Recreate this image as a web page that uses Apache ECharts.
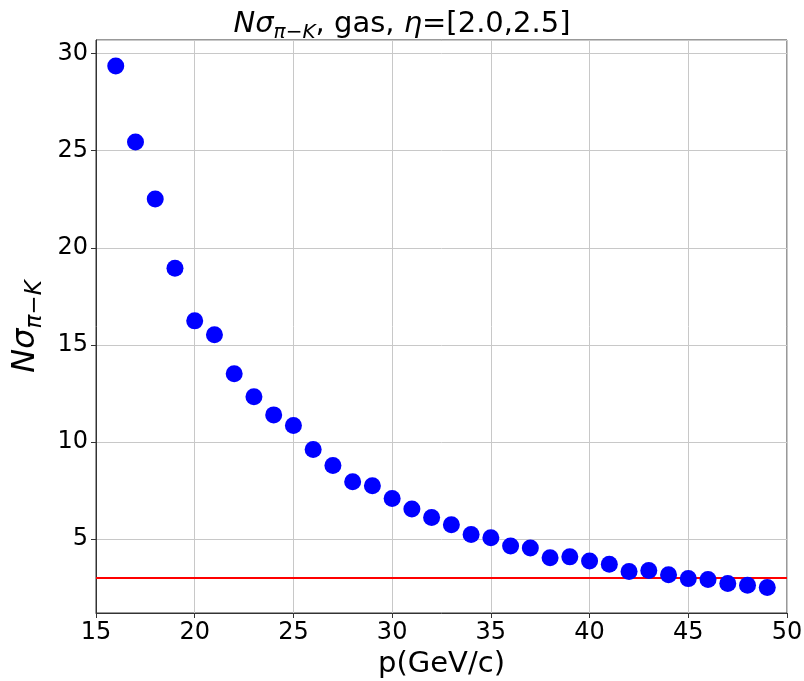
<!DOCTYPE html>
<html>
<head>
<meta charset="utf-8">
<script src="https://cdn.jsdelivr.net/npm/echarts@6/dist/echarts.min.js"></script>
<style>html,body{margin:0;padding:0;background:#fff;}#c{width:804px;height:681px;}</style>
</head>
<body>
<div id="c"></div>
<script>
const momentum = [16,17,18,19,20,21,22,23,24,25,26,27,28,29,30,31,32,33,34,35,36,37,38,39,40,41,42,43,44,45,46,47,48,49];
const nSigma = [29.36,25.45,22.51,18.95,16.24,15.52,13.52,12.33,11.4,10.85,9.62,8.79,7.96,7.75,7.1,6.55,6.12,5.74,5.24,5.08,4.65,4.55,4.05,4.09,3.88,3.71,3.34,3.39,3.17,2.97,2.92,2.72,2.63,2.51];
const thresholdY = 3;
const xRange = [15, 50];
const yRange = [1.2, 30.7];

const chart = echarts.init(document.getElementById('c'));
const FONT = 'DejaVu Sans';
chart.setOption({
  animation: false,
  backgroundColor: '#fff',
  title: {
    text: '{it|Nσ}{sub|π−K}{n|, gas, }{it|η}{n|=[2.0,2.5]}',
    left: 'center',
    top: 0,
    textStyle: {
      fontWeight: 'normal',
      rich: {
        it: {fontFamily: FONT, fontStyle: 'italic', fontWeight: 'normal', fontSize: 29, color: '#000'},
        n: {fontFamily: FONT, fontWeight: 'normal', fontSize: 29, color: '#000'},
        sub: {fontFamily: FONT, fontStyle: 'italic', fontWeight: 'normal', fontSize: 20, color: '#000', verticalAlign: 'bottom', padding: [18, 0, 0, 0]}
      }
    }
  },
  grid: {left: 96, right: 17, top: 40, bottom: 68, show: true, borderColor: '#333', borderWidth: 1, containLabel: false, outerBoundsMode: 'none'},
  xAxis: {
    type: 'value', min: xRange[0], max: xRange[1], interval: 5,
    name: 'p(GeV/c)', nameLocation: 'middle', nameGap: 32,
    nameTextStyle: {fontFamily: FONT, fontSize: 29, color: '#000'},
    axisLine: {show: true, lineStyle: {color: '#333', width: 1}},
    axisTick: {show: true, length: 5, lineStyle: {color: '#333'}},
    axisLabel: {fontFamily: FONT, fontSize: 24, color: '#000', margin: 8},
    splitLine: {show: true, lineStyle: {color: '#c8c8c8', width: 1}}
  },
  yAxis: {
    type: 'value', min: yRange[0], max: yRange[1], splitNumber: 6,
    name: '{it|Nσ}{sub|π−K}', nameLocation: 'middle', nameGap: 28, nameRotate: 90,
    nameTextStyle: {
      padding: [12, 0, 0, 0],
      rich: {
        it: {fontFamily: FONT, fontStyle: 'italic', fontSize: 32, color: '#000'},
        sub: {fontFamily: FONT, fontStyle: 'italic', fontSize: 23, color: '#000', verticalAlign: 'bottom', padding: [18, 0, 0, 0]}
      }
    },
    axisLine: {show: true, lineStyle: {color: '#333', width: 1}},
    axisTick: {show: true, length: 5, lineStyle: {color: '#333'}},
    axisLabel: {fontFamily: FONT, fontSize: 24, color: '#000', margin: 8, showMinLabel: false, showMaxLabel: false,
      formatter: v => (Math.abs(v % 5) < 1e-9 ? String(v) : '')},
    splitLine: {show: true, lineStyle: {color: '#c8c8c8', width: 1}}
  },
  series: [
    {
      type: 'line', data: [[xRange[0], thresholdY], [xRange[1], thresholdY]],
      symbol: 'none', lineStyle: {color: '#ff0000', width: 2}, z: 3, silent: true
    },
    {
      type: 'scatter', data: momentum.map((x, i) => [x, nSigma[i]]),
      symbol: 'circle', symbolSize: 17, itemStyle: {color: '#0000ff', opacity: 1}, z: 4
    }
  ]
});
</script>
</body>
</html>
